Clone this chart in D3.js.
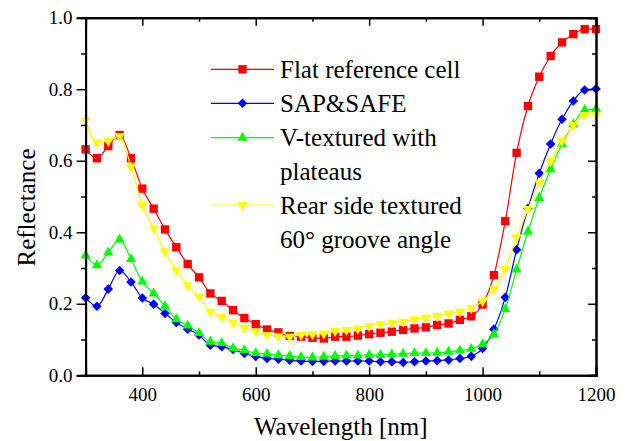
<!DOCTYPE html>
<html>
<head>
<meta charset="utf-8">
<script src="https://cdn.jsdelivr.net/npm/d3@7"></script>
<style>
  body { margin: 0; background: #fff; }
  text { font-family: "Liberation Serif", "Times New Roman", serif; fill: #000; }
</style>
</head>
<body>
<div id="chart"></div>
<script>

// wavelengths, every 20 nm from 300 to 1200
var wavelength = [300, 320, 340, 360, 380, 400, 420, 440, 460, 480,
  500, 520, 540, 560, 580, 600, 620, 640, 660, 680,
  700, 720, 740, 760, 780, 800, 820, 840, 860, 880,
  900, 920, 940, 960, 980, 1000, 1020, 1040, 1060, 1080,
  1100, 1120, 1140, 1160, 1180, 1200];

// reflectance values
var flatCell = [0.632, 0.607, 0.641, 0.672, 0.607, 0.522, 0.466, 0.408, 0.358, 0.311,
  0.274, 0.229, 0.208, 0.182, 0.160, 0.143, 0.128, 0.120, 0.110, 0.108,
  0.105, 0.103, 0.108, 0.108, 0.111, 0.115, 0.119, 0.122, 0.127, 0.131,
  0.134, 0.141, 0.145, 0.155, 0.165, 0.198, 0.280, 0.431, 0.622, 0.753,
  0.835, 0.893, 0.931, 0.954, 0.968, 0.968];

var sapSafe = [0.217, 0.193, 0.241, 0.293, 0.261, 0.216, 0.199, 0.173, 0.148, 0.129,
  0.113, 0.084, 0.080, 0.072, 0.061, 0.053, 0.047, 0.045, 0.042, 0.040,
  0.039, 0.039, 0.040, 0.040, 0.040, 0.040, 0.038, 0.038, 0.036, 0.038,
  0.040, 0.041, 0.043, 0.047, 0.053, 0.075, 0.129, 0.218, 0.351, 0.467,
  0.565, 0.647, 0.716, 0.767, 0.798, 0.801];

var vTextured = [0.335, 0.308, 0.343, 0.380, 0.325, 0.262, 0.229, 0.193, 0.157, 0.139,
  0.118, 0.094, 0.090, 0.076, 0.070, 0.062, 0.060, 0.056, 0.054, 0.051,
  0.050, 0.052, 0.054, 0.055, 0.055, 0.057, 0.057, 0.059, 0.060, 0.062,
  0.062, 0.063, 0.066, 0.069, 0.074, 0.087, 0.115, 0.185, 0.296, 0.402,
  0.496, 0.576, 0.647, 0.702, 0.742, 0.745];

var rearSide = [0.714, 0.652, 0.655, 0.669, 0.583, 0.476, 0.411, 0.346, 0.294, 0.252,
  0.220, 0.178, 0.164, 0.147, 0.133, 0.122, 0.113, 0.110, 0.108, 0.113,
  0.115, 0.117, 0.124, 0.127, 0.131, 0.138, 0.143, 0.147, 0.150, 0.157,
  0.161, 0.166, 0.173, 0.178, 0.188, 0.207, 0.241, 0.297, 0.386, 0.465,
  0.539, 0.599, 0.655, 0.700, 0.728, 0.728];

// legend labels (one entry per text line)
var seriesNames = [["Flat reference cell"], ["SAP&SAFE"], ["V-textured with", "plateaus"],
  ["Rear side textured", "60\u00b0 groove angle"]];

// tick values
var xMajorTicks = [400, 600, 800, 1000, 1200];
var xMinorTicks = [300, 500, 700, 900, 1100];
var yMajorTicks = [0, 0.2, 0.4, 0.6, 0.8, 1.0];
var yMinorTicks = [0.1, 0.3, 0.5, 0.7, 0.9];

var colors = ["#ff0000", "#0000ff", "#00ff00", "#ffff00"];
var shapes = ["square", "diamond", "up", "down"];

var series = [flatCell, sapSafe, vTextured, rearSide];

// define dimensions
var margin = {top: 17.7, right: 31, bottom: 65.7, left: 85.6},
  totalW = 627, totalH = 441,
  width = totalW - margin.left - margin.right,
  height = totalH - margin.top - margin.bottom;

var x = d3.scaleLinear().domain([300, 1200]).range([0, width]);
var y = d3.scaleLinear().domain([0, 1]).range([height, 0]);

var svg = d3.select("#chart")
  .append("svg")
  .attr("width", totalW)
  .attr("height", totalH);

var plot = svg.append("g")
  .attr("transform", "translate(" + margin.left + "," + margin.top + ")");

// marker generator
function markerPath(shape) {
  if (shape == "square") return d3.symbol().type(d3.symbolSquare).size(70)();
  if (shape == "diamond") return d3.symbol().type(d3.symbolSquare).size(46)();
  return d3.symbol().type(d3.symbolTriangle).size(46)();
}
function markerRotate(shape) {
  if (shape == "diamond") return 45;
  if (shape == "down") return 180;
  return 0;
}

// smooth connecting line
var line = d3.line()
  .x(function(d) { return x(d[0]); })
  .y(function(d) { return y(d[1]); })
  .curve(d3.curveMonotoneX);

series.forEach(function(values, k) {
  var pts = wavelength.map(function(w, i) { return [w, values[i]]; });

  plot.append("path")
    .datum(pts)
    .attr("fill", "none")
    .attr("stroke", colors[k])
    .attr("stroke-width", 1.2)
    .attr("d", line);

  plot.selectAll(".m" + k)
    .data(pts)
    .enter().append("path")
    .attr("class", "m" + k)
    .attr("d", markerPath(shapes[k]))
    .attr("fill", colors[k])
    .attr("transform", function(d) {
      return "translate(" + x(d[0]) + "," + y(d[1]) + ") rotate(" + markerRotate(shapes[k]) + ")";
    });
});

// axes: bottom and top ticks point inward, left outward, right inward
var xBottom = d3.axisBottom(x).tickValues(xMajorTicks).tickSize(-8).tickPadding(12)
  .tickFormat(d3.format("d"));
var yLeft = d3.axisLeft(y).tickValues(yMajorTicks).tickSize(9).tickPadding(4)
  .tickFormat(d3.format(".1f"));

plot.append("g")
  .attr("class", "x axis")
  .attr("transform", "translate(0," + height + ")")
  .call(xBottom);

plot.append("g")
  .attr("class", "x minor")
  .attr("transform", "translate(0," + height + ")")
  .call(d3.axisBottom(x).tickValues(xMinorTicks).tickSize(-4).tickFormat(""));

plot.append("g")
  .attr("class", "x top")
  .call(d3.axisTop(x).tickValues(xMajorTicks).tickSize(-8).tickFormat(""));

plot.append("g")
  .attr("class", "x top minor")
  .call(d3.axisTop(x).tickValues(xMinorTicks).tickSize(-4).tickFormat(""));

plot.append("g")
  .attr("class", "y axis")
  .call(yLeft);

plot.append("g")
  .attr("class", "y minor")
  .call(d3.axisLeft(y).tickValues(yMinorTicks).tickSize(4.5).tickFormat(""));

plot.append("g")
  .attr("class", "y right")
  .attr("transform", "translate(" + width + ",0)")
  .call(d3.axisRight(y).tickValues(yMajorTicks).tickSize(-8).tickFormat(""));

plot.append("g")
  .attr("class", "y right minor")
  .attr("transform", "translate(" + width + ",0)")
  .call(d3.axisRight(y).tickValues(yMinorTicks).tickSize(-4).tickFormat(""));

// style axes
plot.selectAll(".domain").attr("stroke", "#000").attr("stroke-width", 2);
plot.selectAll(".tick line").attr("stroke", "#000").attr("stroke-width", 1.5);
plot.selectAll(".tick text")
  .style("font-family", "'Liberation Serif', serif")
  .style("font-size", "19px");

// axis labels
svg.append("text")
  .attr("x", margin.left + width / 2)
  .attr("y", 435)
  .style("text-anchor", "middle")
  .style("font-size", "25px")
  .text("Wavelength [nm]");

svg.append("text")
  .attr("transform", "translate(35," + (margin.top + height / 2 + 11) + ") rotate(-90)")
  .style("text-anchor", "middle")
  .style("font-size", "25px")
  .text("Reflectance");

// legend
var legendRows = [69.3, 103.3, 137.7, 205];
var legend = svg.selectAll(".legend")
  .data(seriesNames)
  .enter().append("g")
  .attr("class", "legend")
  .attr("transform", function(d, i) { return "translate(0," + legendRows[i] + ")"; });

legend.append("line")
  .attr("x1", 211).attr("x2", 274)
  .attr("y1", 0).attr("y2", 0)
  .attr("stroke", function(d, i) { return colors[i]; })
  .attr("stroke-width", 1.2);

legend.append("path")
  .attr("d", function(d, i) { return markerPath(shapes[i]); })
  .attr("fill", function(d, i) { return colors[i]; })
  .attr("transform", function(d, i) { return "translate(242.5,0) rotate(" + markerRotate(shapes[i]) + ")"; });

legend.each(function(d) {
  var g = d3.select(this);
  d.forEach(function(txt, j) {
    g.append("text")
      .attr("x", 280)
      .attr("y", 8.5 + j * 34)
      .style("font-size", "25px")
      .text(txt);
  });
});

</script>
</body>
</html>
